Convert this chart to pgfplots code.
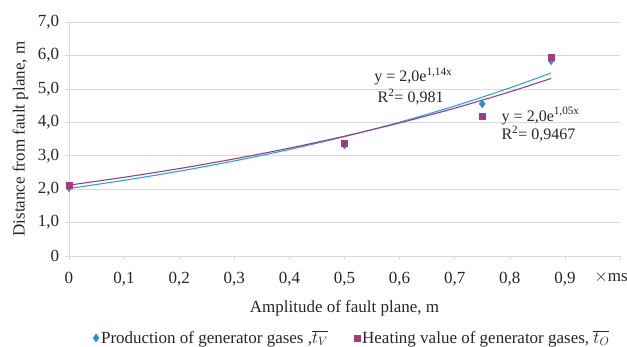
\documentclass[border=0pt]{standalone}
\usepackage{pgfplots}
\pgfplotsset{compat=1.18}
\usepackage{fontspec}
\setmainfont{Liberation Serif}
\definecolor{bluem}{HTML}{2B8FD0}
\definecolor{bluel}{HTML}{29A6DE}
\definecolor{pinkm}{HTML}{A23C7E}
\definecolor{pinkl}{HTML}{9B3E86}
\definecolor{gridc}{HTML}{D9D9D9}
\begin{document}
\fontsize{17}{20}\selectfont
\begin{tikzpicture}
\begin{axis}[
  name=ax,
  scale only axis,
  width=551pt, height=234pt,
  xmin=0, xmax=1.0, ymin=0, ymax=7,
  axis x line=bottom, axis y line=left,
  axis line style={gridc, -},
  xtick={0,0.1,...,1.0},
  xticklabels={0,{0,1},{0,2},{0,3},{0,4},{0,5},{0,6},{0,7},{0,8},{0,9},{\makebox[0pt]{\hspace{-18pt}$\times$ms}}},
  ytick={0,1,...,7},
  yticklabels={0,{1,0},{2,0},{3,0},{4,0},{5,0},{6,0},{7,0}},
  ymajorgrids, grid style={gridc, line width=0.6pt},
  tick style={gridc, line width=0.6pt},
  major tick length=4pt,
  tick align=outside,
  xtick pos=bottom, ytick pos=left,
  xticklabel style={yshift=-6pt},
  ticklabel style={font=\fontsize{17}{20}\selectfont, text=black!85},
  /pgf/number format/assume math mode=true,
  xlabel={Amplitude of fault plane, m},
  ylabel={Distance from fault plane, m},
  label style={font=\fontsize{17}{20}\selectfont, text=black!85},
  xlabel style={yshift=-3pt},
  ylabel style={yshift=-2pt},
  legend style={at={(0.514,-0.30)}, anchor=north, draw=none, legend columns=2,
    font=\fontsize{17}{20}\selectfont, text=black!85,
    /tikz/every even column/.append style={column sep=24pt}},
  legend cell align=left,
  clip=false,
]
\addplot[only marks, mark=diamond*, mark size=4pt, color=bluem]
  coordinates {(0,2.04) (0.5,3.32) (0.75,4.55) (0.875,5.84)};
\addlegendentry{Production of generator gases ,$\overline{t_V}$}
\addplot[only marks, mark=square*, mark size=3pt, color=pinkm]
  coordinates {(0,2.13) (0.5,3.38) (0.75,4.19) (0.875,5.96)};
\addlegendentry{Heating value of generator gases, $\overline{t_O}$}
\addplot[smooth, bluel, line width=1.1pt, forget plot]
  coordinates {(0,2.02) (0.1,2.264) (0.2,2.537) (0.3,2.844) (0.4,3.187) (0.5,3.572) (0.6,4.003) (0.7,4.487) (0.8,5.028) (0.875,5.477)};
\addplot[smooth, pinkl, line width=1.1pt, forget plot]
  coordinates {(0,2.12) (0.1,2.355) (0.2,2.615) (0.3,2.905) (0.4,3.227) (0.5,3.584) (0.6,3.981) (0.7,4.421) (0.8,4.911) (0.875,5.313)};
\node[font=\fontsize{16}{18}\selectfont, text=black!85] at (axis cs:0.625,5.36) {y = 2,0e\textsuperscript{1,14x}};
\node[font=\fontsize{16}{18}\selectfont, text=black!85] at (axis cs:0.62,4.76) {R\textsuperscript{2}= 0,981};
\node[font=\fontsize{16}{18}\selectfont, text=black!85] at (axis cs:0.856,4.19) {y = 2,0e\textsuperscript{1,05x}};
\node[font=\fontsize{16}{18}\selectfont, text=black!85] at (axis cs:0.852,3.65) {R\textsuperscript{2}= 0,9467};
\end{axis}
\pgfresetboundingbox
\path[use as bounding box] ([shift={(-69pt,-91pt)}]ax.south west) rectangle ([shift={(7pt,22pt)}]ax.north east);
\end{tikzpicture}
\end{document}
